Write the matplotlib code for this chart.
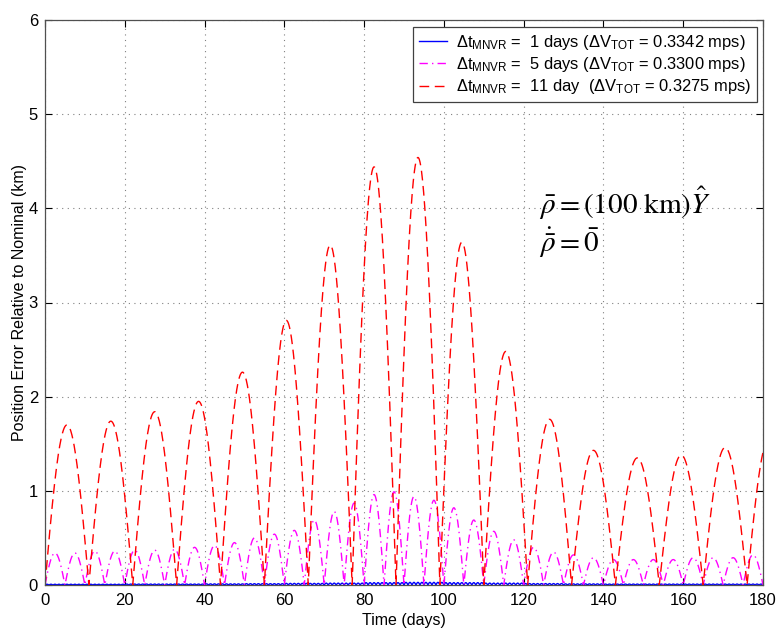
import numpy as np
import matplotlib
matplotlib.use("Agg")
import matplotlib.pyplot as plt

plt.rcParams['font.family'] = ['Liberation Sans', 'DejaVu Sans']
plt.rcParams['mathtext.fontset'] = 'custom'
plt.rcParams['mathtext.rm'] = 'Liberation Sans'
plt.rcParams['mathtext.it'] = 'Liberation Sans:italic'
plt.rcParams['mathtext.bf'] = 'Liberation Sans:bold'

# ---- data ----
# red: maneuver every 11 days; arch start days and peak heights (km)
red_starts = [0, 11, 22, 33, 44, 55, 66, 77, 88, 99, 110, 121, 132, 143, 154, 165, 176]
red_peaks = [1.70, 1.74, 1.84, 1.95, 2.26, 2.81, 3.61, 4.44, 4.54, 3.64, 2.48,
             1.76, 1.43, 1.35, 1.38, 1.46, 1.55]
red_period = 11

# magenta: maneuver every 5 days
mag_starts = list(range(0, 180, 5))
mag_peaks = [0.34, 0.34, 0.36, 0.36, 0.37, 0.37, 0.38, 0.40, 0.42, 0.45, 0.50, 0.54,
             0.58, 0.69, 0.78, 0.87, 0.96, 0.99, 0.94, 0.90, 0.82, 0.69, 0.57, 0.48,
             0.40, 0.35, 0.32, 0.29, 0.27, 0.27, 0.27, 0.27, 0.29, 0.29, 0.29, 0.32]
mag_period = 5

# blue: maneuver every day; peak height per 10-day block
blue_block_peaks = [0.008, 0.008, 0.010, 0.010, 0.012, 0.014, 0.017, 0.020, 0.025,
                    0.028, 0.025, 0.020, 0.015, 0.012, 0.010, 0.010, 0.010, 0.010]
blue_period = 1

labels = [r'$\Delta\mathrm{t}_{\mathrm{MNVR}}$ =  1 days ($\Delta\mathrm{V}_{\mathrm{TOT}}$ = 0.3342 mps)',
          r'$\Delta\mathrm{t}_{\mathrm{MNVR}}$ =  5 days ($\Delta\mathrm{V}_{\mathrm{TOT}}$ = 0.3300 mps)',
          r'$\Delta\mathrm{t}_{\mathrm{MNVR}}$ =  11 day  ($\Delta\mathrm{V}_{\mathrm{TOT}}$ = 0.3275 mps)']

xticks = list(range(0, 181, 20))
yticks = list(range(0, 7))


def arches(starts, peaks, period, npts, tmax=180.0):
    xs, ys = [], []
    for s, p in zip(starts, peaks):
        t = np.linspace(s, s + period, npts)
        y = p * np.sin(np.pi * (t - s) / period)
        m = t <= tmax
        xs.append(t[m]); ys.append(y[m])
    return np.concatenate(xs), np.concatenate(ys)


fig = plt.figure(figsize=(7.81, 6.30), dpi=100)
ax = fig.add_axes([45/781, 1-585/630, (763-45)/781, (585-20)/630])

blue_starts = list(range(0, 180, blue_period))
blue_peaks = [blue_block_peaks[d // 10] for d in blue_starts]
bx, by = arches(blue_starts, blue_peaks, blue_period, 12)
mx, my = arches(mag_starts, mag_peaks, mag_period, 60)
rx, ry = arches(red_starts, red_peaks, red_period, 120)

ax.plot(bx, by, color='#0000ff', lw=1.0, label=labels[0])
ax.plot(mx, my, color='#ff00ff', lw=1.0, dashes=(6, 3, 1, 3), label=labels[1])
ax.plot(rx, ry, color='#ff0000', lw=1.0, dashes=(7, 4), label=labels[2])

ax.set_xlim(0, 180)
ax.set_ylim(0, 6)
ax.set_xticks(xticks)
ax.set_yticks(yticks)
ax.tick_params(direction='in', top=True, right=True, labelsize=12, length=5, width=0.8)
ax.tick_params(axis='x', pad=6)
ax.tick_params(axis='y', pad=5)
ax.grid(True, linestyle=(0, (1, 4)), color='#808080', linewidth=0.8)
for sp in ax.spines.values():
    sp.set_color('#505050')
    sp.set_linewidth(0.9)

ax.set_xlabel('Time (days)', fontsize=11.5, labelpad=3)
ax.set_ylabel('Position Error Relative to Nominal (km)', fontsize=11.5, labelpad=1)

leg = ax.legend(loc='upper right', bbox_to_anchor=(757/781, 1-27/630),
                bbox_transform=fig.transFigure, fontsize=11.9, frameon=True,
                fancybox=False, edgecolor='#404040', framealpha=1, borderaxespad=0.0,
                handlelength=1.7, labelspacing=0.2, borderpad=0.35, handletextpad=0.55)
leg.get_frame().set_linewidth(0.9)

ax.text(0.688, 0.676, r'$\bar{\rho} = \left(100\ \mathrm{km}\right)\hat{Y}$',
        transform=ax.transAxes, fontsize=21, math_fontfamily='stix',
        ha='left', va='center')
ax.text(0.688, 0.607, r'$\dot{\bar{\rho}} = \bar{0}$',
        transform=ax.transAxes, fontsize=21, math_fontfamily='stix',
        ha='left', va='center')

fig.savefig('out.png', dpi=100)
